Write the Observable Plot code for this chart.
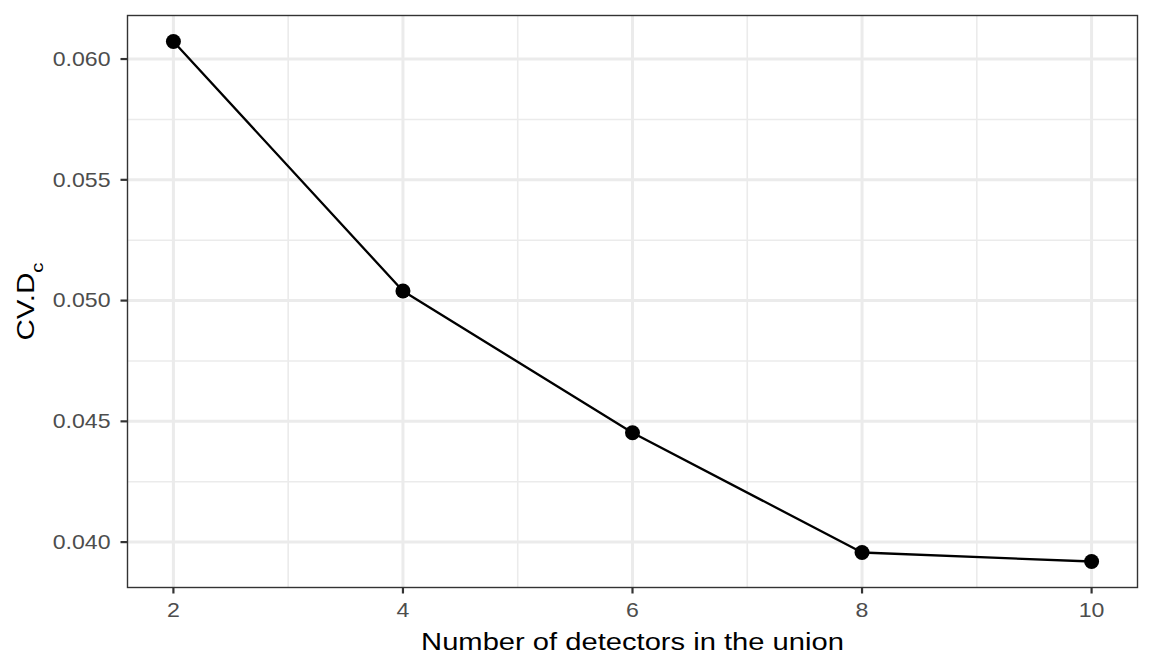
<!DOCTYPE html>
<html><head><meta charset="utf-8">
<script src="https://cdn.jsdelivr.net/npm/d3@7"></script>
<script src="https://cdn.jsdelivr.net/npm/@observablehq/plot@0.6"></script>
<style>
html,body{margin:0;padding:0;background:#fff;}
#chart svg{display:block;}
</style></head><body><div id="chart"></div>
<script>
const detectors = [2, 4, 6, 8, 10];
const cvDc = [0.060727, 0.050397, 0.044529, 0.039570, 0.039198];
const xTicks = [2, 4, 6, 8, 10];
const xMinor = [3, 5, 7, 9];
const yTicks = [0.040, 0.045, 0.050, 0.055, 0.060];
const yMinor = [0.0425, 0.0475, 0.0525, 0.0575];
const xLabel = "Number of detectors in the union";
const yLabel = "CV.D";
const ySub = "c";

const data = detectors.map((d, i) => ({n: d, cv: cvDc[i]}));
const font = "'Liberation Sans', Arial, Helvetica, sans-serif";

const plot = Plot.plot({
  width: 1152, height: 672,
  marginTop: 15, marginRight: 15, marginBottom: 85, marginLeft: 127,
  style: {fontFamily: font, background: "#fff"},
  x: {domain: [1.6, 10.4]},
  y: {domain: [0.038121, 0.061803]},
  marks: [
    Plot.gridX(xMinor, {stroke: "#ebebeb", strokeOpacity: 1, strokeWidth: 1.6}),
    Plot.gridY(yMinor, {stroke: "#ebebeb", strokeOpacity: 1, strokeWidth: 1.6}),
    Plot.gridX(xTicks, {stroke: "#ebebeb", strokeOpacity: 1, strokeWidth: 3}),
    Plot.gridY(yTicks, {stroke: "#ebebeb", strokeOpacity: 1, strokeWidth: 3}),
    Plot.frame({stroke: "#333333", strokeWidth: 1.4}),
    Plot.axisX(xTicks, {tickSize: 6.5, tickPadding: 8, fontSize: 21, fill: "#4d4d4d", stroke: "#333333", strokeWidth: 2.2, tickFormat: d => String(d), label: null}),
    Plot.axisX([], {tickSize: 0, label: xLabel, labelAnchor: "center", labelArrow: "none", labelOffset: 62, fontSize: 24.6, fill: "#000"}),
    Plot.axisY(yTicks, {tickSize: 6.5, tickPadding: 10.5, fontSize: 21, fill: "#4d4d4d", stroke: "#333333", strokeWidth: 2.2, tickFormat: d3.format(".3f"), label: null}),
    Plot.axisY([], {tickSize: 0, label: yLabel, labelAnchor: "center", labelArrow: "none", labelOffset: 111, fontSize: 24.6, fill: "#000"}),
    Plot.line(data, {x: "n", y: "cv", stroke: "#000", strokeWidth: 2.3}),
    Plot.dot(data, {x: "n", y: "cv", r: 7.5, fill: "#000", stroke: "none"})
  ]
});

// add subscript to the y-axis label
const lab = plot.querySelector('g[aria-label="y-axis label"] text');
if (lab) {
  lab.textContent = yLabel;
  const ts = document.createElementNS("http://www.w3.org/2000/svg", "tspan");
  ts.setAttribute("dy", "9");
  ts.setAttribute("font-size", "17");
  ts.textContent = ySub;
  lab.appendChild(ts);
}
document.getElementById("chart").appendChild(plot);

// widen glyphs slightly to match the reference rendering
function stretch(sel, f) {
  plot.querySelectorAll(sel).forEach(t => {
    const L = t.getComputedTextLength();
    if (L > 0) {
      t.setAttribute("textLength", (L * f).toFixed(2));
      t.setAttribute("lengthAdjust", "spacingAndGlyphs");
    }
  });
}
stretch('g[aria-label="x-axis tick label"] text', 1.1);
stretch('g[aria-label="y-axis tick label"] text', 1.1);
stretch('g[aria-label="x-axis label"] text', 1.185);
stretch('g[aria-label="y-axis label"] text', 1.2);
</script>
</body></html>
